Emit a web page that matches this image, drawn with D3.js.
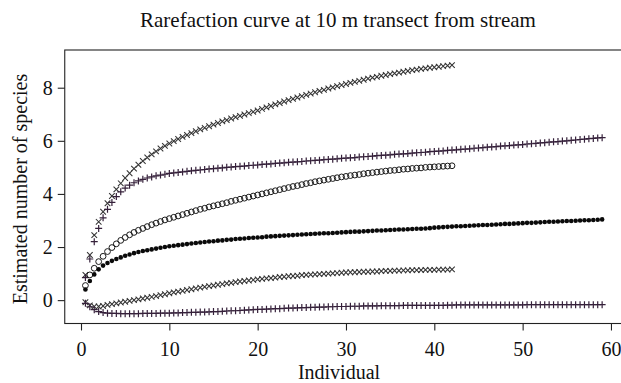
<!DOCTYPE html>
<html>
<head>
<meta charset="utf-8">
<script src="https://cdn.jsdelivr.net/npm/d3@7"></script>
<style>
  html, body { margin: 0; padding: 0; background: #fff; }
  svg { display: block; }
  svg text { font-family: "Liberation Serif", "Times New Roman", serif !important; fill: #111; }
</style>
</head>
<body>
<svg id="chart" width="621" height="383"></svg>
<script>
// ---------------- data ----------------
const title = "Rarefaction curve at 10 m transect from stream";
const xLabel = "Individual";
const yLabel = "Estimated number of species";
const xTicks = [0, 10, 20, 30, 40, 50, 60];
const yTicks = [0, 2, 4, 6, 8];

const individuals42 = [0.5,1,1.5,2,2.5,3,3.5,4,4.5,5,5.5,6,6.5,7,7.5,8,8.5,9,9.5,10,
  10.5,11,11.5,12,12.5,13,13.5,14,14.5,15,15.5,16,16.5,17,17.5,18,18.5,19,19.5,20,
  20.5,21,21.5,22,22.5,23,23.5,24,24.5,25,25.5,26,26.5,27,27.5,28,28.5,29,29.5,30,
  30.5,31,31.5,32,32.5,33,33.5,34,34.5,35,35.5,36,36.5,37,37.5,38,38.5,39,39.5,40,
  40.5,41,41.5,42];
const individuals59 = [0.5,1,1.5,2,2.5,3,3.5,4,4.5,5,5.5,6,6.5,7,7.5,8,8.5,9,9.5,10,
  10.5,11,11.5,12,12.5,13,13.5,14,14.5,15,15.5,16,16.5,17,17.5,18,18.5,19,19.5,20,
  20.5,21,21.5,22,22.5,23,23.5,24,24.5,25,25.5,26,26.5,27,27.5,28,28.5,29,29.5,30,
  30.5,31,31.5,32,32.5,33,33.5,34,34.5,35,35.5,36,36.5,37,37.5,38,38.5,39,39.5,40,
  40.5,41,41.5,42,42.5,43,43.5,44,44.5,45,45.5,46,46.5,47,47.5,48,48.5,49,49.5,50,
  50.5,51,51.5,52,52.5,53,53.5,54,54.5,55,55.5,56,56.5,57,57.5,58,58.5,59];

// transect A (42 individuals): upper bound, mean, lower bound
const upperA = [0.95,1.70,2.45,2.95,3.33,3.65,3.92,4.17,4.40,4.60,
  4.78,4.95,5.10,5.24,5.37,5.49,5.60,5.71,5.81,5.90,
  5.99,6.07,6.15,6.22,6.29,6.36,6.43,6.49,6.55,6.61,
  6.67,6.73,6.78,6.84,6.89,6.94,6.99,7.04,7.09,7.14,
  7.20,7.26,7.31,7.37,7.42,7.48,7.53,7.58,7.63,7.68,
  7.73,7.78,7.83,7.88,7.92,7.97,8.01,8.06,8.10,8.14,
  8.18,8.22,8.26,8.30,8.34,8.38,8.41,8.45,8.48,8.51,
  8.54,8.57,8.60,8.63,8.66,8.68,8.71,8.73,8.75,8.77,
  8.79,8.81,8.83,8.85];
const meanA = [0.55,0.95,1.20,1.45,1.65,1.83,1.98,2.12,2.25,2.36,
  2.46,2.55,2.63,2.70,2.77,2.84,2.90,2.96,3.02,3.07,
  3.12,3.17,3.22,3.27,3.32,3.37,3.42,3.46,3.51,3.55,
  3.59,3.63,3.67,3.72,3.76,3.80,3.84,3.88,3.92,3.96,
  4.00,4.04,4.08,4.12,4.16,4.20,4.24,4.28,4.31,4.35,
  4.39,4.42,4.46,4.49,4.52,4.55,4.58,4.61,4.64,4.66,
  4.69,4.71,4.73,4.76,4.78,4.80,4.82,4.84,4.86,4.88,
  4.89,4.91,4.93,4.94,4.96,4.97,4.98,5.00,5.01,5.02,
  5.03,5.04,5.05,5.06];
const lowerA = [-0.08,-0.20,-0.24,-0.24,-0.22,-0.18,-0.15,-0.12,-0.09,-0.06,
  -0.03,0.00,0.03,0.06,0.09,0.12,0.15,0.19,0.22,0.26,
  0.29,0.32,0.35,0.38,0.41,0.44,0.47,0.50,0.53,0.55,
  0.58,0.60,0.63,0.65,0.68,0.70,0.72,0.74,0.76,0.78,
  0.80,0.82,0.83,0.85,0.87,0.88,0.90,0.91,0.92,0.94,
  0.95,0.96,0.97,0.98,0.99,1.00,1.01,1.02,1.03,1.04,
  1.05,1.05,1.06,1.07,1.07,1.08,1.08,1.09,1.10,1.10,
  1.11,1.11,1.12,1.12,1.13,1.13,1.13,1.14,1.14,1.14,
  1.15,1.15,1.15,1.16];

// transect B (59 individuals): upper bound, mean, lower bound
const upperB = [0.85,1.55,2.20,2.70,3.10,3.42,3.68,3.90,4.08,4.22,
  4.33,4.42,4.49,4.55,4.60,4.64,4.68,4.71,4.74,4.77,
  4.79,4.81,4.83,4.85,4.87,4.89,4.90,4.92,4.94,4.95,
  4.97,4.98,5.00,5.01,5.03,5.04,5.05,5.07,5.08,5.09,
  5.11,5.12,5.13,5.15,5.16,5.17,5.19,5.20,5.21,5.22,
  5.24,5.25,5.26,5.27,5.29,5.30,5.31,5.32,5.34,5.35,
  5.36,5.37,5.39,5.40,5.41,5.42,5.44,5.45,5.46,5.47,
  5.49,5.50,5.51,5.52,5.54,5.55,5.56,5.57,5.59,5.60,
  5.61,5.62,5.64,5.65,5.66,5.68,5.69,5.70,5.72,5.73,
  5.74,5.76,5.77,5.78,5.80,5.81,5.82,5.84,5.85,5.86,
  5.88,5.89,5.90,5.92,5.93,5.95,5.96,5.97,5.99,6.00,
  6.02,6.03,6.05,6.06,6.08,6.09,6.11,6.12];
const meanB = [0.40,0.72,0.97,1.16,1.30,1.40,1.48,1.55,1.61,1.67,
  1.72,1.77,1.81,1.85,1.88,1.91,1.94,1.97,2.00,2.03,
  2.05,2.07,2.09,2.11,2.13,2.15,2.17,2.19,2.21,2.22,
  2.24,2.25,2.27,2.28,2.30,2.31,2.32,2.34,2.35,2.36,
  2.37,2.39,2.40,2.41,2.42,2.43,2.44,2.45,2.46,2.47,
  2.48,2.49,2.50,2.51,2.52,2.52,2.53,2.54,2.55,2.56,
  2.57,2.58,2.58,2.59,2.60,2.61,2.62,2.62,2.63,2.64,
  2.65,2.66,2.66,2.67,2.68,2.69,2.69,2.70,2.71,2.73,
  2.74,2.75,2.76,2.77,2.78,2.78,2.79,2.80,2.81,2.82,
  2.83,2.83,2.84,2.85,2.86,2.87,2.87,2.88,2.89,2.90,
  2.91,2.91,2.92,2.93,2.94,2.95,2.95,2.96,2.97,2.98,
  2.98,2.99,3.00,3.01,3.01,3.02,3.03,3.04];
const lowerB = [-0.12,-0.25,-0.36,-0.43,-0.47,-0.49,-0.50,-0.50,-0.51,-0.51,
  -0.51,-0.51,-0.51,-0.50,-0.50,-0.50,-0.50,-0.49,-0.49,-0.49,
  -0.48,-0.48,-0.47,-0.47,-0.46,-0.46,-0.45,-0.45,-0.44,-0.43,
  -0.43,-0.42,-0.41,-0.40,-0.40,-0.39,-0.38,-0.37,-0.36,-0.35,
  -0.35,-0.34,-0.33,-0.32,-0.32,-0.31,-0.30,-0.30,-0.29,-0.28,
  -0.28,-0.27,-0.27,-0.26,-0.26,-0.25,-0.25,-0.24,-0.24,-0.24,
  -0.23,-0.23,-0.23,-0.22,-0.22,-0.22,-0.22,-0.21,-0.21,-0.21,
  -0.21,-0.21,-0.20,-0.20,-0.20,-0.20,-0.20,-0.20,-0.20,-0.20,
  -0.20,-0.20,-0.19,-0.19,-0.18,-0.18,-0.18,-0.18,-0.18,-0.18,
  -0.18,-0.18,-0.18,-0.18,-0.18,-0.18,-0.18,-0.18,-0.18,-0.18,
  -0.17,-0.17,-0.17,-0.17,-0.17,-0.17,-0.17,-0.17,-0.17,-0.17,
  -0.17,-0.17,-0.17,-0.17,-0.17,-0.17,-0.17,-0.17];

// ---------------- drawing ----------------
const series = [
  { xs: individuals42, ys: upperA, shape: "x",      color: "#333" },
  { xs: individuals59, ys: upperB, shape: "plus",   color: "#35203a" },
  { xs: individuals42, ys: meanA,  shape: "circle", color: "#1a1a1a" },
  { xs: individuals59, ys: meanB,  shape: "dot",    color: "#0a0a0a" },
  { xs: individuals42, ys: lowerA, shape: "x",      color: "#333" },
  { xs: individuals59, ys: lowerB, shape: "plus",   color: "#35203a" }
];

const svg = d3.select("#chart");
const plot = { left: 64.75, right: 622.8, top: 50, bottom: 323.5 };

const allX = series.flatMap(s => s.xs);
const [x0, x1] = d3.extent(allX);
const px = (x1 - x0) * 0.04;

const x = d3.scaleLinear().domain([x0 - px, x1 + px]).range([plot.left, plot.right]);
const y = d3.scaleLinear().domain([-0.88, 9.42]).range([plot.bottom, plot.top]);

const FS = 20;

// frame
svg.append("rect")
  .attr("x", plot.left).attr("y", plot.top)
  .attr("width", plot.right - plot.left).attr("height", plot.bottom - plot.top)
  .attr("fill", "none").attr("stroke", "#222").attr("stroke-width", 1.1);

// axes
const xAxis = svg.append("g")
  .attr("transform", `translate(0,${plot.bottom})`)
  .call(d3.axisBottom(x).tickValues(xTicks).tickSize(7).tickPadding(11).tickFormat(d3.format("d")));
const yAxis = svg.append("g")
  .attr("transform", `translate(${plot.left},0)`)
  .call(d3.axisLeft(y).tickValues(yTicks).tickSize(7).tickPadding(5).tickFormat(d3.format("d")));
[xAxis, yAxis].forEach(g => {
  g.attr("font-family", null).attr("font-size", null);
  g.select(".domain").remove();
  g.selectAll(".tick line").attr("stroke", "#222").attr("stroke-width", 1.1);
  g.selectAll(".tick text").style("font-size", FS + "px").attr("fill", "#111");
});

// titles
svg.append("text").attr("x", 338).attr("y", 27)
  .attr("text-anchor", "middle").style("font-size", "21px").text(title);
svg.append("text").attr("x", 339).attr("y", 379)
  .attr("text-anchor", "middle").style("font-size", FS + "px").text(xLabel);
svg.append("text").attr("transform", `translate(27,189) rotate(-90)`)
  .attr("text-anchor", "middle").style("font-size", FS + "px").text(yLabel);

// markers
const g = svg.append("g");
series.forEach(s => {
  const pts = s.xs.map((v, i) => [x(v), y(s.ys[i])]);
  const sel = g.append("g").selectAll("g").data(pts).enter();
  if (s.shape === "circle") {
    sel.append("circle").attr("cx", d => d[0]).attr("cy", d => d[1]).attr("r", 2.9)
      .attr("fill", "none").attr("stroke", s.color).attr("stroke-width", 1);
  } else if (s.shape === "dot") {
    sel.append("circle").attr("cx", d => d[0]).attr("cy", d => d[1]).attr("r", 2.3)
      .attr("fill", s.color);
  } else if (s.shape === "plus") {
    const h = 3.5;
    sel.append("path")
      .attr("d", d => `M${d[0]-h},${d[1]}H${d[0]+h}M${d[0]},${d[1]-h}V${d[1]+h}`)
      .attr("stroke", s.color).attr("stroke-width", 1.2).attr("fill", "none");
  } else {
    const h = 2.8;
    sel.append("path")
      .attr("d", d => `M${d[0]-h},${d[1]-h}L${d[0]+h},${d[1]+h}M${d[0]-h},${d[1]+h}L${d[0]+h},${d[1]-h}`)
      .attr("stroke", s.color).attr("stroke-width", 1.05).attr("fill", "none");
  }
});
</script>
</body>
</html>
